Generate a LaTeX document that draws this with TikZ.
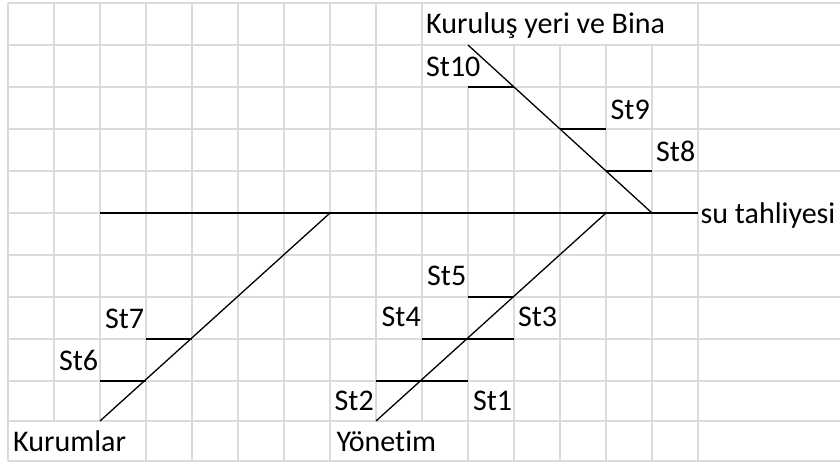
\documentclass[tikz,border=0pt]{standalone}
\usepackage{fontspec}
\setmainfont{Carlito}[Ligatures=NoCommon]
\definecolor{gridgray}{RGB}{217,219,220}
\tikzset{
  gridline/.style={draw=gridgray, line width=2pt},
  bone/.style={draw=black, line width=1.3pt},
  tick/.style={draw=black, line width=1.7pt},
  lbl/.style={anchor=base west, inner sep=0pt, font=\fontsize{30}{36}\selectfont}
}
\begin{document}
\begin{tikzpicture}[x=1pt,y=-1pt]
\useasboundingbox (0,0) rectangle (840,463);
\fill[white] (0,0) rectangle (840,463);
% ---- grid: horizontal lines
\foreach \yy in {3,45,87,129,171,255,297,339,381,421,461}
  \draw[gridline] (8,\yy) -- (840,\yy);
\draw[gridline] (8,213) -- (698,213);
% ---- grid: vertical lines
\foreach \xx in {8,146,192,238,284,330,698}
  \draw[gridline] (\xx,3) -- (\xx,461);
\foreach \xx in {54,100,376,422}
  \draw[gridline] (\xx,3) -- (\xx,421);
\foreach \xx in {514,560,606,652}
  \draw[gridline] (\xx,45) -- (\xx,461);
\draw[gridline] (468,87) -- (468,461);
% ---- coordinates
\coordinate (axL) at (100,213);
\coordinate (axR) at (698,213);
\coordinate (topS) at (468,45);
\coordinate (topE) at (652,213);
\coordinate (yonS) at (606,213);
\coordinate (yonE) at (376,421);
\coordinate (kurS) at (330,213);
\coordinate (kurE) at (100,421);
\coordinate (t10a) at (468,87);  \coordinate (t10b) at (514,87);
\coordinate (t9a) at (560,129);  \coordinate (t9b) at (606,129);
\coordinate (t8a) at (606,171);  \coordinate (t8b) at (652,171);
\coordinate (t5a) at (468,297);  \coordinate (t5b) at (514,297);
\coordinate (t34a) at (422,339); \coordinate (t34b) at (514,339);
\coordinate (t12a) at (376,381); \coordinate (t12b) at (468,381);
\coordinate (t7a) at (146,339);  \coordinate (t7b) at (192,339);
\coordinate (t6a) at (100,381);  \coordinate (t6b) at (146,381);
% ---- bones
\draw[tick] (axL) -- (axR);
\draw[bone] (topS) -- (topE);
\draw[bone] (yonS) -- (yonE);
\draw[bone] (kurS) -- (kurE);
\draw[tick] (t10a) -- (t10b);
\draw[tick] (t9a) -- (t9b);
\draw[tick] (t8a) -- (t8b);
\draw[tick] (t5a) -- (t5b);
\draw[tick] (t34a) -- (t34b);
\draw[tick] (t12a) -- (t12b);
\draw[tick] (t7a) -- (t7b);
\draw[tick] (t6a) -- (t6b);
% ---- labels
\node[lbl] (kb) at (426,33.5) {Kuruluş yeri ve Bina};
\node[lbl] (s10) at (426,76.7) {St10};
\node[lbl] (s9) at (610.5,119) {St9};
\node[lbl] (s8) at (656,161) {St8};
\node[lbl] (st) at (700.5,223.3) {su tahliyesi};
\node[lbl] (s5) at (427,285) {St5};
\node[lbl] (s4) at (381.5,326.7) {St4};
\node[lbl] (s3) at (517.8,326.7) {St3};
\node[lbl] (s7) at (104.8,328.5) {St7};
\node[lbl] (s6) at (58.8,370.5) {St6};
\node[lbl] (s2) at (334.5,410.7) {St2};
\node[lbl] (s1) at (472.8,410.7) {St1};
\node[lbl] (km) at (13,451.7) {Kurumlar};
\node[lbl] (yn) at (336.3,451.7) {Yönetim};
\end{tikzpicture}
\end{document}
